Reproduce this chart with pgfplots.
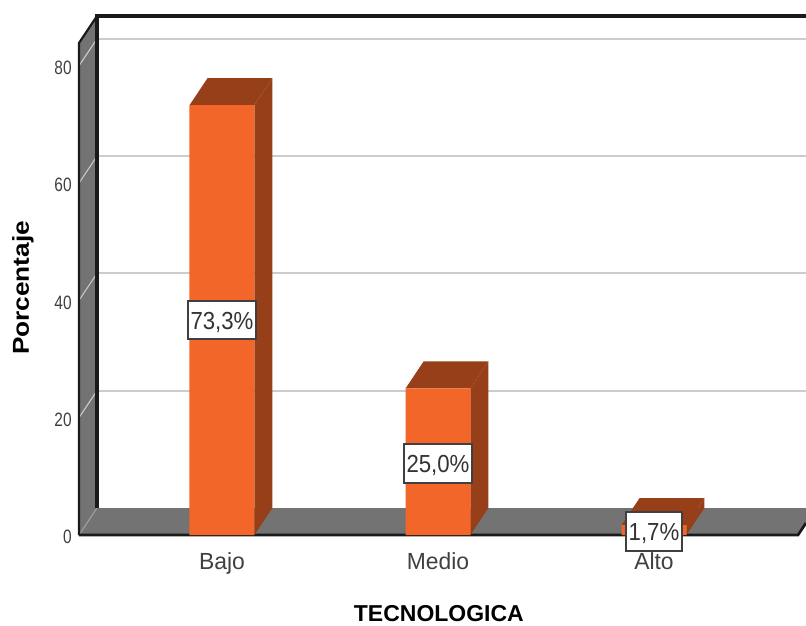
\documentclass[border=0pt]{standalone}
\usepackage{fontspec}
\setmainfont{Liberation Sans}
\newfontfamily\tickf[FakeStretch=0.80]{Liberation Sans}
\newfontfamily\catf[FakeStretch=0.98]{Liberation Sans}
\newfontfamily\valf[FakeStretch=0.90]{Liberation Sans}
\newfontfamily\titlef[FakeStretch=1.0]{Liberation Sans}
\newfontfamily\ytitlef[FakeStretch=1.14]{Liberation Sans}
\usepackage{pgfplots}
\pgfplotsset{compat=1.18}
\definecolor{wall}{HTML}{737373}
\definecolor{front}{HTML}{F26729}
\definecolor{dark}{HTML}{963F18}
\definecolor{gridc}{HTML}{CCCCCC}
\definecolor{edge}{HTML}{1A1A1A}
\begin{document}
\begin{tikzpicture}
\useasboundingbox (-59.25pt,-67.5pt) rectangle (545.25pt,401.25pt);
\begin{axis}[
  scale only axis, width=545.25pt, height=389.25pt,
  xmin=-0.662, xmax=2.7037, ymin=0, ymax=88.49,
  clip=false,
  axis line style={draw=none},
  major tick length=0pt,
  xtick={0,1,2}, xticklabels={Bajo,Medio,Alto},
  ytick={0,20,40,60,80},
  /pgf/number format/assume math mode=true,
  xticklabel style={font=\catf\fontsize{17.5pt}{20pt}\selectfont, color=black!75, yshift=-9.5pt},
  yticklabel style={font=\tickf\fontsize{14.5pt}{17pt}\selectfont, color=black!75, xshift=-2pt, yshift=-1.5pt},
  xlabel={TECNOLOGICA},
  ylabel={Porcentaje},
  xlabel style={font=\titlef\bfseries\fontsize{17.25pt}{20pt}\selectfont, at={(axis description cs:0.495,-0.152)}, anchor=center},
  ylabel style={font=\ytitlef\bfseries\fontsize{17.25pt}{20pt}\selectfont, at={(axis description cs:-0.0770,0.476)}, anchor=center},
]
% walls
\addplot[fill=wall, draw=none] coordinates {(-0.662,0)(-0.662,83.89)(-0.5787,88.49)(-0.5787,4.6)};
\addplot[fill=wall, draw=none] coordinates {(-0.662,0)(-0.5787,4.6)(2.7037,4.6)(2.7037,2.05)(2.6667,0)};
% grid on back wall
\addplot[gridc, line width=1.5pt] coordinates {(-0.5787,24.6)(2.7037,24.6)};
\addplot[gridc, line width=1.5pt] coordinates {(-0.5787,44.6)(2.7037,44.6)};
\addplot[gridc, line width=1.5pt] coordinates {(-0.5787,64.6)(2.7037,64.6)};
\addplot[gridc, line width=1.5pt] coordinates {(-0.5787,84.6)(2.7037,84.6)};
% grid on side wall
\addplot[black!35, line width=0.7pt] coordinates {(-0.662,0)(-0.5787,4.6)};
\addplot[gridc, line width=0.8pt] coordinates {(-0.662,20)(-0.5787,24.6)};
\addplot[gridc, line width=0.8pt] coordinates {(-0.662,40)(-0.5787,44.6)};
\addplot[gridc, line width=0.8pt] coordinates {(-0.662,60)(-0.5787,64.6)};
\addplot[gridc, line width=0.8pt] coordinates {(-0.662,80)(-0.5787,84.6)};
% frame edges
\addplot[edge, line width=2.4pt] coordinates {(-0.5787,4.6)(-0.5787,88.49)(2.7037,88.49)};
\addplot[edge, line width=1.6pt] coordinates {(-0.662,0)(-0.662,83.89)(-0.5787,88.49)};
\addplot[edge, line width=2pt] coordinates {(-0.662,0)(2.6667,0)(2.7037,2.05)};
% bar sides and tops
\addplot[fill=dark, draw=none] coordinates {(0.15,0)(0.2333,4.6)(0.2333,77.9)(0.15,73.3)};
\addplot[fill=dark, draw=none] coordinates {(-0.15,73.3)(-0.0667,77.9)(0.2333,77.9)(0.15,73.3)};
\addplot[fill=dark, draw=none] coordinates {(1.15,0)(1.2333,4.6)(1.2333,29.6)(1.15,25.0)};
\addplot[fill=dark, draw=none] coordinates {(0.85,25.0)(0.9333,29.6)(1.2333,29.6)(1.15,25.0)};
\addplot[fill=dark, draw=none] coordinates {(2.15,0)(2.2333,4.6)(2.2333,6.3)(2.15,1.7)};
\addplot[fill=dark, draw=none] coordinates {(1.85,1.7)(1.9333,6.3)(2.2333,6.3)(2.15,1.7)};
% bar fronts
\addplot[ybar, bar width=48.75pt, bar shift=0pt, fill=front, draw=none] coordinates {(0,73.3)(1,25.0)(2,1.7)};
% value labels
\addplot[draw=none, mark=none, point meta=explicit symbolic, nodes near coords,
  every node near coord/.style={anchor=center, fill=white, draw=black!75, line width=1.5pt,
    font=\valf\fontsize{18.5pt}{20pt}\selectfont, text=black!80,
    inner xsep=2.2pt, inner ysep=6.75pt, text height=14.5pt, text depth=1pt}]
  coordinates {(0,36.65)[73,3\%] (1,12.2)[25,0\%] (2,0.6)[1,7\%]};
\end{axis}
\end{tikzpicture}
\end{document}
